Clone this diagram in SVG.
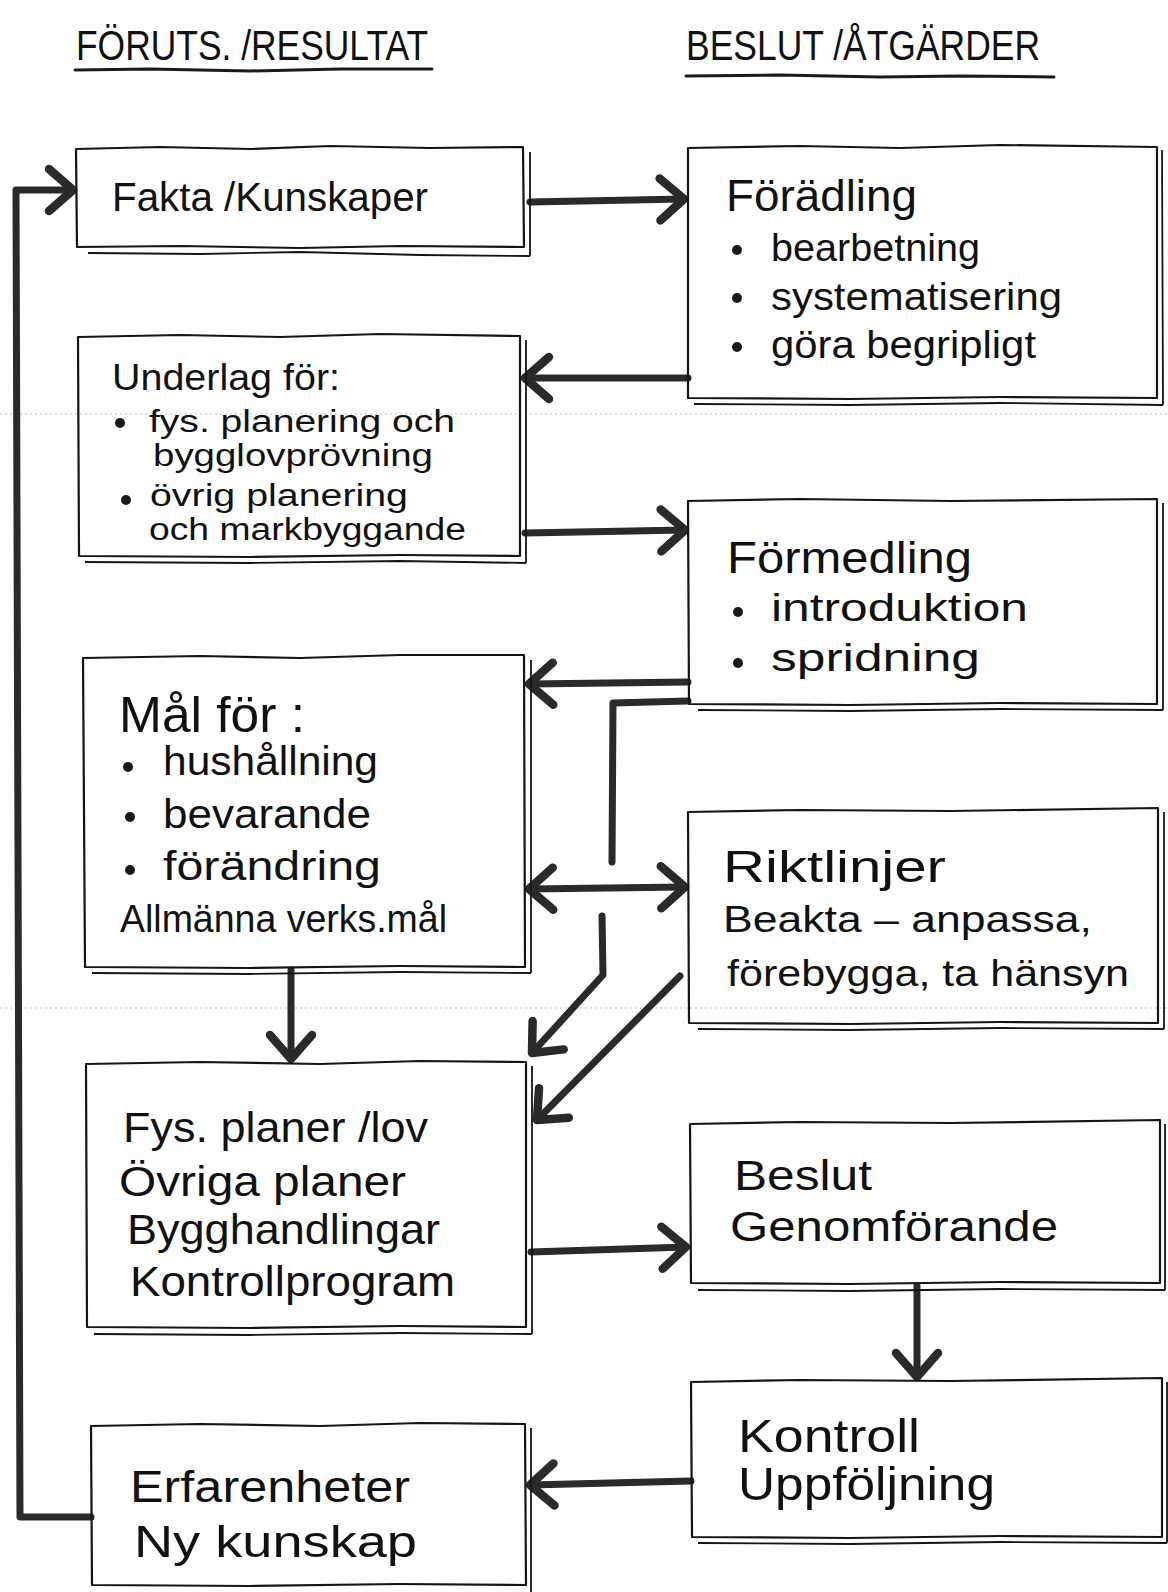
<svg xmlns="http://www.w3.org/2000/svg" width="1168" height="1592" viewBox="0 0 1168 1592">
<style>
.bg{fill:#fff}
.box{fill:none;stroke:#151515;stroke-width:2.2;stroke-linejoin:round}
.sh{fill:none;stroke:#151515;stroke-width:1.8;stroke-linejoin:round}
.t{font-family:"Liberation Sans",Arial,sans-serif;fill:#111}
.hd{font-family:"Liberation Sans",Arial,sans-serif;fill:#111;font-size:42px}
.ul{fill:none;stroke:#1a1a1a;stroke-width:3;stroke-linecap:round}
.dot{fill:#1a1a1a}
.conn path{fill:none;stroke:#2a2a2a;stroke-width:7;stroke-linecap:round;stroke-linejoin:round}
.scan{stroke:#bdbdbd;stroke-width:1;stroke-dasharray:2 3}
</style>
<defs>
<marker id="ah" markerUnits="userSpaceOnUse" viewBox="-34 -30 40 60" markerWidth="40" markerHeight="60" refX="0" refY="0" orient="auto">
<path d="M-24,-21 L0,0 L-24,21" fill="none" stroke="#2a2a2a" stroke-width="8.5" stroke-linecap="round" stroke-linejoin="round"/>
</marker>
<marker id="ahs" markerUnits="userSpaceOnUse" viewBox="-34 -30 40 60" markerWidth="40" markerHeight="60" refX="0" refY="0" orient="auto-start-reverse">
<path d="M-24,-21 L0,0 L-24,21" fill="none" stroke="#2a2a2a" stroke-width="8.5" stroke-linecap="round" stroke-linejoin="round"/>
</marker>
</defs>
<rect class="bg" x="0" y="0" width="1168" height="1592"/>
<line class="scan" x1="0" y1="414" x2="1168" y2="414"/>
<line class="scan" x1="0" y1="1008" x2="1168" y2="1008"/>

<g id="headers">
<text class="hd" x="76" y="60" textLength="352" lengthAdjust="spacingAndGlyphs">FÖRUTS. /RESULTAT</text>
<path class="ul" d="M75,70 L150,69 L250,71 L340,69 L432,69"/>
<text class="hd" x="686" y="60" textLength="354" lengthAdjust="spacingAndGlyphs">BESLUT /ÅTGÄRDER</text>
<path class="ul" d="M686,76 L780,75 L880,77 L960,76 L1054,77"/>
</g>

<g id="connectors" class="conn">
<path d="M91,1517 L20,1517 L16,190 L73,190" marker-end="url(#ah)"/>
<path d="M530,202 L684,199" marker-end="url(#ah)"/>
<path d="M688,378 L525,378" marker-end="url(#ah)"/>
<path d="M525,533 L685,530" marker-end="url(#ah)"/>
<path d="M688,682 L529,684" marker-end="url(#ah)"/>
<path d="M688,701 L613,703 L612,862"/>
<path d="M529,889 L685,887" marker-start="url(#ahs)" marker-end="url(#ah)"/>
<path d="M602,916 L603,975 L532,1053" marker-end="url(#ah)"/>
<path d="M680,976 L537,1120" marker-end="url(#ah)"/>
<path d="M291,970 L291,1059" marker-end="url(#ah)"/>
<path d="M531,1252 L686,1247" marker-end="url(#ah)"/>
<path d="M917,1286 L917,1377" marker-end="url(#ah)"/>
<path d="M691,1481 L530,1485" marker-end="url(#ah)"/>
</g>

<g id="fakta">
<path class="box" d="M76,149 L160,147 L250,149 L330,146 L430,148 L523,147 L524,247 L400,246 L300,248 L180,246 L77,247 Z"/>
<path class="sh" d="M530,152 L530,256 M88,253 L200,254 L300,252 L420,255 L530,256"/>
<text class="t" x="112" y="211" font-size="40" textLength="316" lengthAdjust="spacingAndGlyphs">Fakta /Kunskaper</text>
</g>

<g id="foradling">
<path class="box" d="M688,148 L800,146 L900,148 L1000,145 L1157,147 L1157,398 L1000,397 L850,399 L688,398 Z"/>
<path class="sh" d="M1162,150 L1163,405 M694,404 L850,405 L1000,403 L1163,405"/>
<text class="t" x="726" y="211" font-size="44" textLength="191" lengthAdjust="spacingAndGlyphs">Förädling</text>
<circle class="dot" cx="737" cy="250" r="5"/>
<text class="t" x="771" y="261" font-size="38" textLength="209" lengthAdjust="spacingAndGlyphs">bearbetning</text>
<circle class="dot" cx="737" cy="298" r="5"/>
<text class="t" x="771" y="310" font-size="38" textLength="291" lengthAdjust="spacingAndGlyphs">systematisering</text>
<circle class="dot" cx="737" cy="347" r="5"/>
<text class="t" x="771" y="358" font-size="38" textLength="265" lengthAdjust="spacingAndGlyphs">göra begripligt</text>
</g>

<g id="underlag">
<path class="box" d="M78,337 L180,335 L280,337 L380,334 L520,336 L520,556 L400,555 L250,557 L79,556 Z"/>
<path class="sh" d="M526,340 L526,563 M85,562 L250,563 L400,561 L526,563"/>
<text class="t" x="112" y="390" font-size="36" textLength="228" lengthAdjust="spacingAndGlyphs">Underlag för:</text>
<circle class="dot" cx="120" cy="423" r="5"/>
<text class="t" x="149" y="432" font-size="31" textLength="306" lengthAdjust="spacingAndGlyphs">fys. planering och</text>
<text class="t" x="153" y="466" font-size="31" textLength="280" lengthAdjust="spacingAndGlyphs">bygglovprövning</text>
<circle class="dot" cx="126" cy="500" r="5"/>
<text class="t" x="150" y="506" font-size="31" textLength="258" lengthAdjust="spacingAndGlyphs">övrig planering</text>
<text class="t" x="149" y="540" font-size="31" textLength="317" lengthAdjust="spacingAndGlyphs">och markbyggande</text>
</g>

<g id="formedling">
<path class="box" d="M688,501 L800,499 L950,501 L1157,499 L1157,704 L1000,703 L850,705 L689,704 Z"/>
<path class="sh" d="M1163,503 L1163,710 M698,710 L850,711 L1000,709 L1163,710"/>
<text class="t" x="727" y="573" font-size="44" textLength="245" lengthAdjust="spacingAndGlyphs">Förmedling</text>
<circle class="dot" cx="738" cy="612" r="5"/>
<text class="t" x="771" y="621" font-size="38" textLength="257" lengthAdjust="spacingAndGlyphs">introduktion</text>
<circle class="dot" cx="738" cy="663" r="5"/>
<text class="t" x="771" y="671" font-size="38" textLength="209" lengthAdjust="spacingAndGlyphs">spridning</text>
</g>

<g id="mal">
<path class="box" d="M83,658 L200,656 L300,658 L400,655 L524,655 L525,967 L400,966 L250,968 L85,967 Z"/>
<path class="sh" d="M531,660 L531,973 M92,973 L250,974 L400,972 L531,973"/>
<text class="t" x="119" y="732" font-size="50" textLength="186" lengthAdjust="spacingAndGlyphs">Mål för :</text>
<circle class="dot" cx="128" cy="767" r="5"/>
<text class="t" x="163" y="775" font-size="40" textLength="215" lengthAdjust="spacingAndGlyphs">hushållning</text>
<circle class="dot" cx="130" cy="817" r="5"/>
<text class="t" x="163" y="828" font-size="40" textLength="208" lengthAdjust="spacingAndGlyphs">bevarande</text>
<circle class="dot" cx="130" cy="870" r="5"/>
<text class="t" x="163" y="880" font-size="40" textLength="218" lengthAdjust="spacingAndGlyphs">förändring</text>
<text class="t" x="120" y="932" font-size="38" textLength="327" lengthAdjust="spacingAndGlyphs">Allmänna verks.mål</text>
</g>

<g id="riktlinjer">
<path class="box" d="M688,812 L800,810 L950,811 L1158,808 L1158,1023 L1000,1022 L850,1024 L689,1023 Z"/>
<path class="sh" d="M1164,812 L1164,1029 M698,1029 L850,1030 L1000,1028 L1164,1029"/>
<text class="t" x="723" y="882" font-size="44" textLength="223" lengthAdjust="spacingAndGlyphs">Riktlinjer</text>
<text class="t" x="723" y="932" font-size="36" textLength="369" lengthAdjust="spacingAndGlyphs">Beakta – anpassa,</text>
<text class="t" x="727" y="986" font-size="36" textLength="402" lengthAdjust="spacingAndGlyphs">förebygga, ta hänsyn</text>
</g>

<g id="fysplaner">
<path class="box" d="M86,1064 L200,1062 L320,1064 L420,1061 L526,1062 L526,1327 L400,1326 L250,1328 L87,1327 Z"/>
<path class="sh" d="M532,1066 L532,1334 M94,1334 L250,1335 L400,1333 L532,1334"/>
<text class="t" x="123" y="1142" font-size="42" textLength="305" lengthAdjust="spacingAndGlyphs">Fys. planer /lov</text>
<text class="t" x="119" y="1196" font-size="42" textLength="287" lengthAdjust="spacingAndGlyphs">Övriga planer</text>
<text class="t" x="127" y="1244" font-size="42" textLength="313" lengthAdjust="spacingAndGlyphs">Bygghandlingar</text>
<text class="t" x="130" y="1296" font-size="42" textLength="325" lengthAdjust="spacingAndGlyphs">Kontrollprogram</text>
</g>

<g id="beslut">
<path class="box" d="M690,1124 L800,1122 L950,1123 L1160,1120 L1160,1283 L1000,1282 L850,1284 L691,1283 Z"/>
<path class="sh" d="M1165,1124 L1165,1290 M698,1290 L850,1291 L1000,1289 L1165,1290"/>
<text class="t" x="734" y="1190" font-size="42" textLength="138" lengthAdjust="spacingAndGlyphs">Beslut</text>
<text class="t" x="730" y="1241" font-size="42" textLength="328" lengthAdjust="spacingAndGlyphs">Genomförande</text>
</g>

<g id="kontroll">
<path class="box" d="M691,1382 L800,1380 L950,1381 L1162,1378 L1162,1537 L1000,1536 L850,1538 L692,1537 Z"/>
<path class="sh" d="M1167,1382 L1167,1543 M698,1543 L850,1544 L1000,1542 L1167,1543"/>
<text class="t" x="738" y="1452" font-size="46" textLength="182" lengthAdjust="spacingAndGlyphs">Kontroll</text>
<text class="t" x="738" y="1500" font-size="46" textLength="257" lengthAdjust="spacingAndGlyphs">Uppföljning</text>
</g>

<g id="erfarenheter">
<path class="box" d="M91,1426 L200,1424 L320,1426 L420,1423 L525,1424 L526,1585 L400,1584 L250,1586 L92,1585 Z"/>
<path class="sh" d="M531,1428 L531,1592"/>
<text class="t" x="130" y="1502" font-size="44" textLength="280" lengthAdjust="spacingAndGlyphs">Erfarenheter</text>
<text class="t" x="134" y="1557" font-size="44" textLength="283" lengthAdjust="spacingAndGlyphs">Ny kunskap</text>
</g>
</svg>
